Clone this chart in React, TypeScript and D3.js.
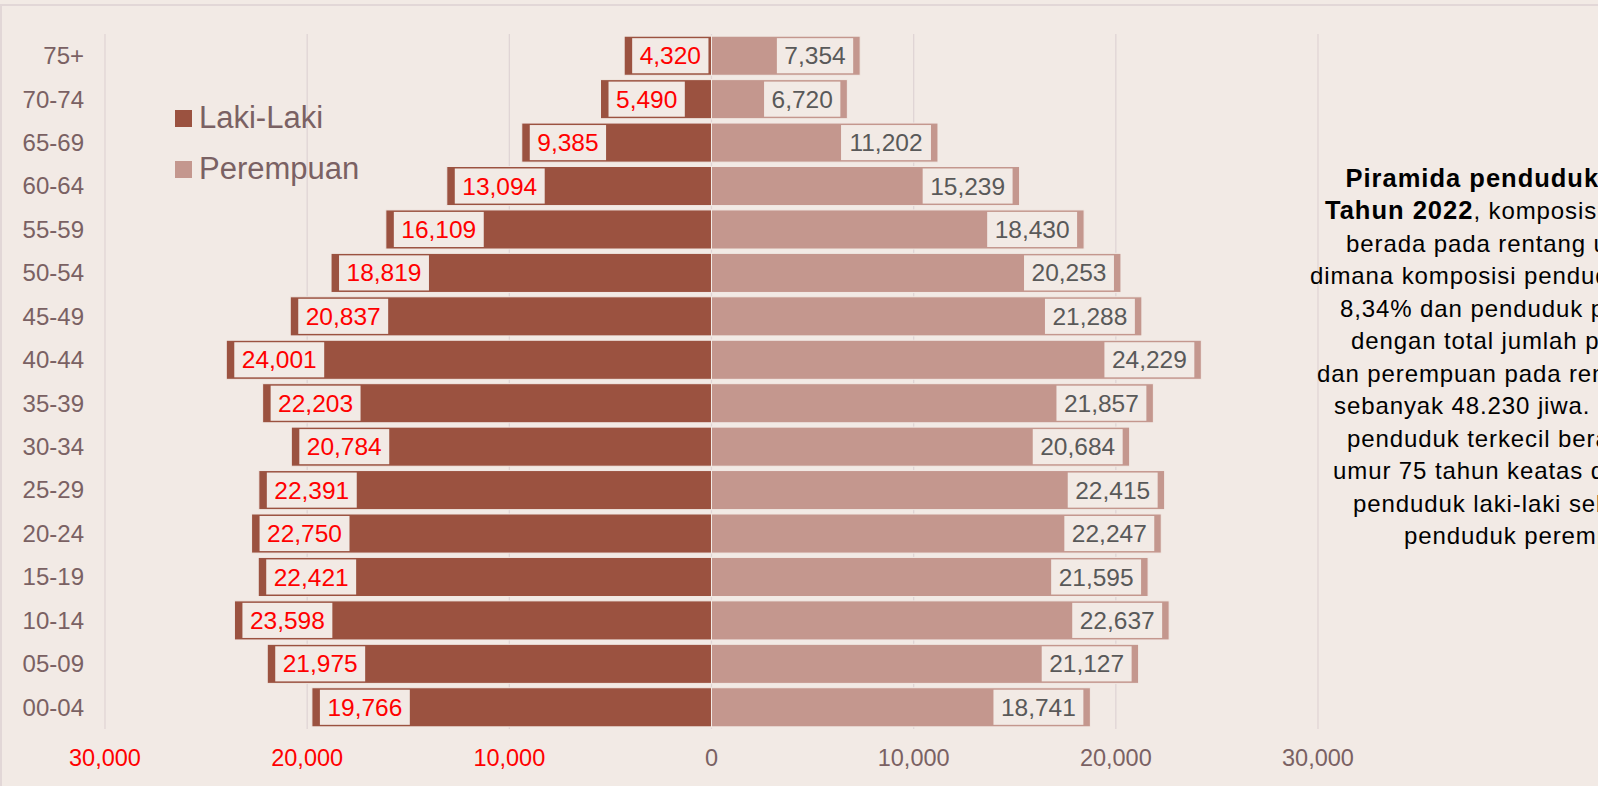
import React from "react";
import * as d3 from "d3";

const categories = ["00-04","05-09","10-14","15-19","20-24","25-29","30-34","35-39","40-44","45-49","50-54","55-59","60-64","65-69","70-74","75+"];
const male = [19766,21975,23598,22421,22750,22391,20784,22203,24001,20837,18819,16109,13094,9385,5490,4320];
const female = [18741,21127,22637,21595,22247,22415,20684,21857,24229,21288,20253,18430,15239,11202,6720,7354];
const tickValues = [-30000,-20000,-10000,0,10000,20000,30000];
const seriesNames = ["Laki-Laki","Perempuan"];
const noteLines: { bold?: string; text: string }[] = [
  { bold: "Piramida penduduk Kabupaten", text: "" },
  { bold: "Tahun 2022", text: ", komposisi penduduk terbanyak" },
  { text: "berada pada rentang umur 40-44 tahun" },
  { text: "dimana komposisi penduduk laki-laki sebanyak" },
  { text: "8,34% dan penduduk perempuan 8,18%" },
  { text: "dengan total jumlah penduduk laki-laki" },
  { text: "dan perempuan pada rentang umur tersebut" },
  { text: "sebanyak 48.230 jiwa. Sedangkan komposisi" },
  { text: "penduduk terkecil berada pada rentang" },
  { text: "umur 75 tahun keatas dengan jumlah" },
  { text: "penduduk laki-laki sebanyak 4.320 jiwa dan" },
  { text: "penduduk perempuan 7.354 jiwa." },
];
const noteStarts = [1345.5,1325,1346,1310,1340,1351,1317,1334,1347,1333,1353,1404];

const W = 1598, H = 786;
const BG = "#f2eae5";
const MALE = "#9b5240";
const FEMALE = "#c4978e";
const GRID = "#e0d5d5";
const AXIS_TXT = "#7a6163";
const FONT = "'Liberation Sans', Arial, sans-serif";

function textWidth(s: string, size: number) {
  const w: Record<string, number> = { ",": 0.278, ".": 0.278 };
  let t = 0;
  for (const c of s) t += w[c] ?? 0.556;
  return t * size;
}

export default function App() {
  const x = d3.scaleLinear().domain([-30000, 30000]).range([105, 1318]);
  const y = d3.scaleBand<string>().domain([...categories].reverse()).range([34, 729]).paddingInner(0.1).paddingOuter(0.05);
  const fmt = d3.format(",");
  const bw = y.bandwidth();
  const fs = 24.5;

  const bars = categories.map((c, i) => {
    const y0 = y(c)!;
    const m = male[i], f = female[i];
    const mx = x(-m), fx = x(f), zx = x(0);
    const mt = fmt(m), ft = fmt(f);
    const mw = textWidth(mt, fs) + 15, fw = textWidth(ft, fs) + 15;
    return (
      <g key={c}>
        <rect x={mx} y={y0} width={zx - mx} height={bw} fill={MALE} stroke={BG} strokeWidth={1} />
        <rect x={zx} y={y0} width={fx - zx} height={bw} fill={FEMALE} stroke={BG} strokeWidth={1} />
        <rect x={mx + 8} y={y0 + 2} width={mw} height={bw - 4} fill={BG} />
        <text x={mx + 8 + mw / 2} y={y0 + bw / 2} dy="0.35em" textAnchor="middle" fill="#ff0000" fontSize={fs}>{mt}</text>
        <rect x={fx - 7 - fw} y={y0 + 2} width={fw} height={bw - 4} fill={BG} />
        <text x={fx - 7 - fw / 2} y={y0 + bw / 2} dy="0.35em" textAnchor="middle" fill="#595959" fontSize={fs}>{ft}</text>
      </g>
    );
  });

  return (
    <div style={{ position: "fixed", left: 0, top: 0, width: W, height: H, background: BG }}>
      <svg width={W} height={H} style={{ display: "block", fontFamily: FONT }}>
        <rect x={0} y={0} width={W} height={H} fill={BG} />
        <rect x={1} y={5} width={W + 10} height={H + 10} fill="none" stroke="#e2d7d7" strokeWidth={2} />
        {tickValues.map(t => (
          <line key={t} x1={x(t)} x2={x(t)} y1={34} y2={729} stroke={GRID} strokeWidth={1.3} />
        ))}
        {bars}
        {categories.map(c => (
          <text key={c} x={84} y={y(c)! + bw / 2} dy="0.35em" textAnchor="end" fill={AXIS_TXT} fontSize={24}>{c}</text>
        ))}
        {tickValues.map(t => (
          <text key={t} x={x(t)} y={766} textAnchor="middle" fill={t < 0 ? "#ff0000" : AXIS_TXT} fontSize={23.5}>{fmt(Math.abs(t))}</text>
        ))}
        <g>
          <rect x={175} y={110} width={17} height={17} fill={MALE} />
          <text x={199} y={128} fill={AXIS_TXT} fontSize={31}>{seriesNames[0]}</text>
          <rect x={175} y={161} width={17} height={17} fill={FEMALE} />
          <text x={199} y={179} fill={AXIS_TXT} fontSize={31}>{seriesNames[1]}</text>
        </g>
        {noteLines.map((l, i) => (
          <text key={i} x={noteStarts[i]} y={186.7 + i * 32.5} fill="#000" fontSize={24} letterSpacing={0.9}>
            {l.bold ? <tspan fontWeight="bold" fontSize={25.5} letterSpacing={1}>{l.bold}</tspan> : null}
            <tspan>{l.text}</tspan>
          </text>
        ))}
      </svg>
    </div>
  );
}
